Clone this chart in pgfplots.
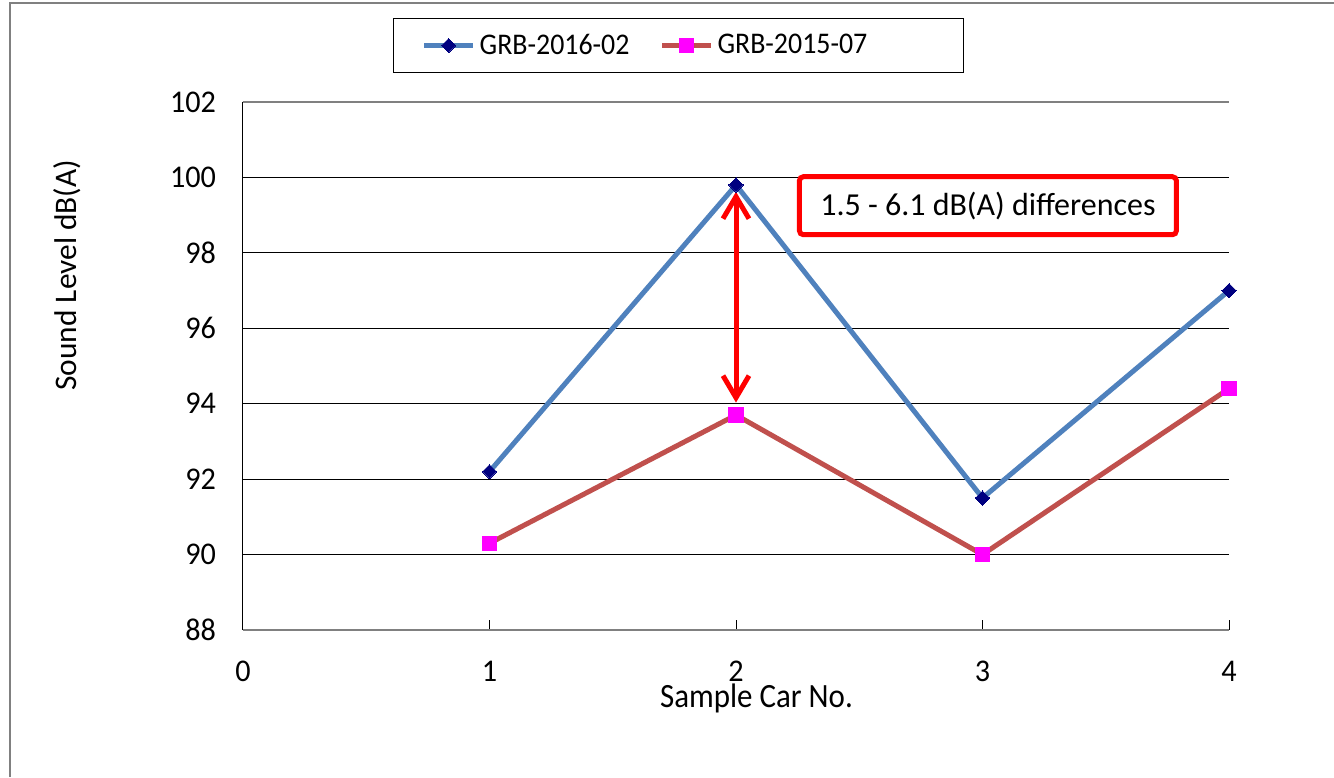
\documentclass[border=0pt]{standalone}
\usepackage{fontspec}
\setmainfont{Carlito}
\newfontfamily\legfont[FakeStretch=0.93]{Carlito}
\newfontfamily\xlabfont[FakeStretch=0.91]{Carlito}
\newfontfamily\tickfont[FakeStretch=0.955]{Carlito}
\usepackage{pgfplots}
\pgfplotsset{compat=1.18}
\usetikzlibrary{arrows.meta}
\definecolor{lblue}{HTML}{4F81BD}
\definecolor{lred}{HTML}{C0504D}
\definecolor{mnavy}{HTML}{000080}
\definecolor{mmag}{HTML}{FF00FF}
\definecolor{axgray}{HTML}{808080}
\begin{document}
\begin{tikzpicture}[font=\fontsize{16}{19}\selectfont]
\useasboundingbox (0,0) rectangle (667pt,388.5pt);
\draw[axgray, line width=1pt] (5pt,0) -- (5pt,387pt) -- (667pt,387pt);
\begin{axis}[
  at={(121.5pt,73.5pt)}, anchor=south west,
  scale only axis, width=493pt, height=264pt,
  xmin=0, xmax=4, ymin=88, ymax=102,
  xtick={0,1,2,3,4}, ytick={88,90,...,102},
  axis x line=bottom, axis y line=left,
  x axis line style={axgray, line width=1pt, -},
  y axis line style={black, line width=0.5pt, -},
  ymajorgrids, major grid style={black, line width=0.5pt},
  tick align=inside, major tick length=5pt,
  tick style={black, line width=0.5pt},
  /pgf/number format/assume math mode=true,
  ticklabel style={font=\tickfont\fontsize{15.8}{19}\selectfont},
  yticklabel style={xshift=-10pt},
  xticklabel style={yshift=-12pt},
  xlabel={Sample Car No.},
  ylabel={Sound Level dB(A)},
  xlabel style={font=\xlabfont\fontsize{17}{20}\selectfont, at={(axis description cs:0.5208,0)}, anchor=base, yshift=-38.5pt},
  ylabel style={font=\fontsize{15.7}{19}\selectfont, at={(axis description cs:-0.178,0.672)}, anchor=center},
  legend columns=2,
  legend style={at={(axis description cs:0.4417,1.107)}, anchor=center, draw=black, line width=0.5pt,
    font=\legfont\fontsize{15}{18}\selectfont, inner xsep=14pt, inner ysep=5.5pt,
    /tikz/every even column/.append style={column sep=13pt}},
  legend image code/.code={\draw[mark repeat=2,mark phase=2,#1] plot coordinates {(0pt,0pt) (12.25pt,0pt) (24.5pt,0pt)};},
  clip=false,
]
\addplot[lblue, line width=2.5pt, mark=square*, mark size=2.5pt, mark options={rotate=45, fill=mnavy, draw=mnavy, line width=0pt, solid}] coordinates {(1,92.2) (2,99.8) (3,91.5) (4,97.0)};
\addlegendentry{GRB-2016-02}
\addplot[lred, line width=2.5pt, mark=square*, mark size=3.6pt, mark options={fill=mmag, draw=mmag, line width=0pt, solid}] coordinates {(1,90.3) (2,93.7) (3,90.0) (4,94.4)};
\addlegendentry{GRB-2015-07\hspace*{32pt}}
\draw[axgray, line width=0.75pt] (axis cs:0,102) -- (axis cs:4,102);
\draw[red, line width=2.5pt, {Straight Barb[length=11pt,width=13pt]}-{Straight Barb[length=11pt,width=13pt]}] (axis cs:2,99.62) -- (axis cs:2,94.03);
\node[draw=red, line width=2.5pt, rounded corners=2pt, minimum width=188.5pt, minimum height=29pt, inner sep=0pt, fill=white] at (axis cs:3.022,99.25) {1.5 - 6.1 dB(A) differences};
\end{axis}
\end{tikzpicture}
\end{document}
